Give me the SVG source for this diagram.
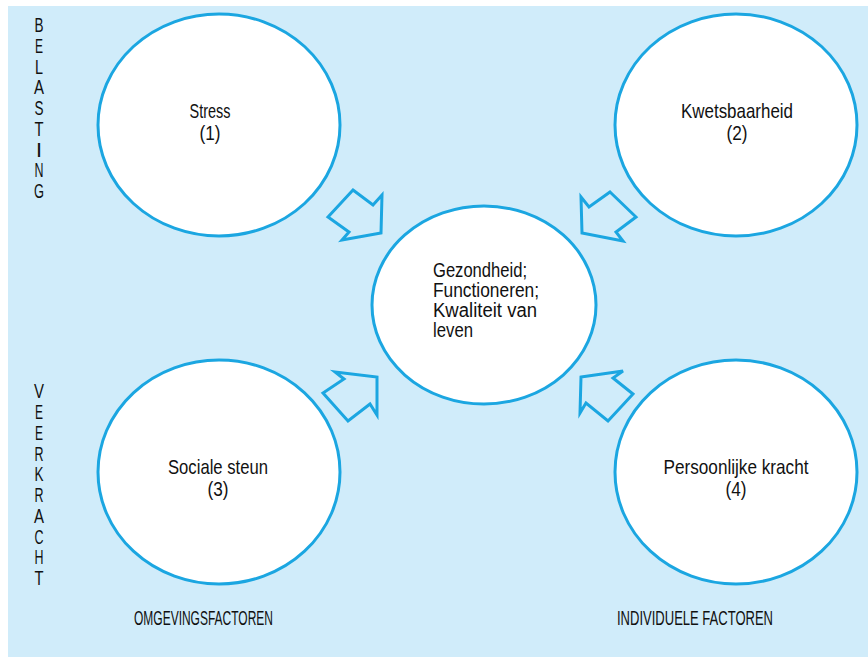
<svg xmlns="http://www.w3.org/2000/svg" width="868" height="659" viewBox="0 0 868 659">
<style>
.node ellipse{fill:#ffffff;stroke:#1ba6e1;stroke-width:3}
.arrow{fill:none;stroke:#1ba6e1;stroke-width:3;stroke-linejoin:miter}
text{font-family:"Liberation Sans",Arial,sans-serif;font-size:21px;fill:#111111}
.c{text-anchor:middle}
.v{text-anchor:middle;font-size:20px}
.m{font-size:20px}
</style>
<rect x="0" y="0" width="868" height="659" fill="#ffffff"/>
<rect x="8" y="6" width="860" height="651" fill="#d0ecfa"/>
<g id="side-labels">
<text class="v" x="39" y="32" textLength="9" lengthAdjust="spacingAndGlyphs">B</text>
<text class="v" x="39" y="53" textLength="8" lengthAdjust="spacingAndGlyphs">E</text>
<text class="v" x="39" y="74" textLength="8" lengthAdjust="spacingAndGlyphs">L</text>
<text class="v" x="39" y="94" textLength="10" lengthAdjust="spacingAndGlyphs">A</text>
<text class="v" x="39" y="115" textLength="9" lengthAdjust="spacingAndGlyphs">S</text>
<text class="v" x="39" y="136" textLength="9" lengthAdjust="spacingAndGlyphs">T</text>
<text class="v" x="39" y="157" textLength="4" lengthAdjust="spacingAndGlyphs" font-weight="bold">I</text>
<text class="v" x="39" y="177" textLength="9" lengthAdjust="spacingAndGlyphs">N</text>
<text class="v" x="39" y="198" textLength="10" lengthAdjust="spacingAndGlyphs">G</text>
<text class="v" x="39" y="398" textLength="10" lengthAdjust="spacingAndGlyphs">V</text>
<text class="v" x="39" y="419" textLength="8" lengthAdjust="spacingAndGlyphs">E</text>
<text class="v" x="39" y="440" textLength="8" lengthAdjust="spacingAndGlyphs">E</text>
<text class="v" x="39" y="461" textLength="9" lengthAdjust="spacingAndGlyphs">R</text>
<text class="v" x="39" y="481" textLength="9" lengthAdjust="spacingAndGlyphs">K</text>
<text class="v" x="39" y="502" textLength="9" lengthAdjust="spacingAndGlyphs">R</text>
<text class="v" x="39" y="523" textLength="10" lengthAdjust="spacingAndGlyphs">A</text>
<text class="v" x="39" y="544" textLength="9" lengthAdjust="spacingAndGlyphs">C</text>
<text class="v" x="39" y="564" textLength="9" lengthAdjust="spacingAndGlyphs">H</text>
<text class="v" x="39" y="585" textLength="9" lengthAdjust="spacingAndGlyphs">T</text>
<text x="134" y="625" textLength="139" lengthAdjust="spacingAndGlyphs" font-size="20">OMGEVINGSFACTOREN</text>
<text x="617" y="625" textLength="156" lengthAdjust="spacingAndGlyphs" font-size="20">INDIVIDUELE FACTOREN</text>
</g>
<g id="stress" class="node">
<ellipse cx="219" cy="125" rx="121" ry="111"/>
<text class="c" x="210" y="118" textLength="41" lengthAdjust="spacingAndGlyphs">Stress</text>
<text class="c" x="210" y="140" textLength="21" lengthAdjust="spacingAndGlyphs">(1)</text>
</g>
<g id="kwetsbaarheid" class="node">
<ellipse cx="736" cy="125" rx="121" ry="111"/>
<text class="c" x="737" y="118" textLength="112" lengthAdjust="spacingAndGlyphs">Kwetsbaarheid</text>
<text class="c" x="737" y="140" textLength="21" lengthAdjust="spacingAndGlyphs">(2)</text>
</g>
<g id="gezondheid" class="node">
<ellipse cx="484" cy="305" rx="112" ry="99"/>
<text class="m" x="433" y="277" textLength="94" lengthAdjust="spacingAndGlyphs">Gezondheid;</text>
<text class="m" x="433" y="297" textLength="106" lengthAdjust="spacingAndGlyphs">Functioneren;</text>
<text class="m" x="433" y="317" textLength="104" lengthAdjust="spacingAndGlyphs">Kwaliteit van</text>
<text class="m" x="433" y="337" textLength="40" lengthAdjust="spacingAndGlyphs">leven</text>
</g>
<g id="sociale-steun" class="node">
<ellipse cx="219" cy="472" rx="121" ry="112"/>
<text class="c" x="218" y="474" textLength="100" lengthAdjust="spacingAndGlyphs">Sociale steun</text>
<text class="c" x="218" y="496" textLength="21" lengthAdjust="spacingAndGlyphs">(3)</text>
</g>
<g id="persoonlijke-kracht" class="node">
<ellipse cx="736" cy="472" rx="121" ry="112"/>
<text class="c" x="736" y="474" textLength="145" lengthAdjust="spacingAndGlyphs">Persoonlijke kracht</text>
<text class="c" x="736" y="496" textLength="21" lengthAdjust="spacingAndGlyphs">(4)</text>
</g>
<g id="connectors">
<polygon class="arrow" points="353,190 373,205 382,195 381,233 342,240 349,232 328,217"/>
<polygon class="arrow" points="610,192 636,217 616,232 623,241 582,233 581,197 589,207"/>
<polygon class="arrow" points="335,372 377,377 377,415 370,404 348,421 323,393 344,379"/>
<polygon class="arrow" points="581,377 623,371 613,378 633,394 608,421 586,403 580,413"/>
</g>
</svg>
